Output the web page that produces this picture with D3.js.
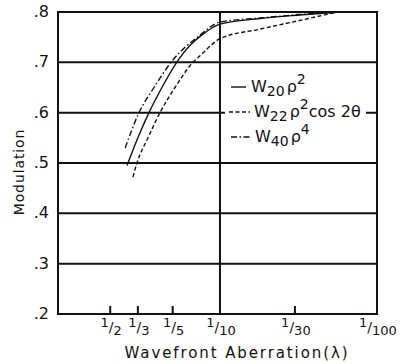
<!DOCTYPE html>
<html><head><meta charset="utf-8">
<script src="https://cdn.jsdelivr.net/npm/d3@7"></script>
<style>body{margin:0;background:#fff}svg{display:block}text{font-family:"DejaVu Sans",sans-serif;fill:#111}</style>
</head><body><svg id="c" width="404" height="364"></svg>
<script>
// Data: x = denominator of wavefront aberration (λ/d), y = modulation
const yTicks = [0.2,0.3,0.4,0.5,0.6,0.7,0.8];
const yTickLabels = [".2",".3",".4",".5",".6",".7",".8"];
const xTicks = [2,3,5,10,30,100];
const xTickDenoms = ["2","3","5","10","30","100"];
const w20 = [[2.56,0.495],[3.0,0.55],[3.53,0.60],[4.27,0.65],[5.3,0.70],[6.5,0.735],[7.5,0.752],[10,0.776],[18,0.787],[32,0.794],[58,0.8]];
const w22 = [[2.79,0.472],[2.96,0.50],[3.48,0.55],[4.15,0.60],[5.17,0.65],[6.73,0.70],[7.46,0.713],[10,0.747],[18,0.766],[32,0.783],[56,0.80]];
const w40 = [[2.49,0.53],[3.05,0.60],[3.8,0.65],[4.88,0.70],[7.46,0.754],[10,0.78],[18,0.788],[32,0.795],[56,0.8]];
const seriesNames = ["W20","W22","W40"];

const svg = d3.select("#c");
const x = d3.scaleLog().domain([0.93,100]).range([58,377]);
const y = d3.scaleLinear().domain([0.2,0.8]).range([314,12]);
const ink = "#111";

// horizontal grid lines
svg.selectAll(".hg").data(yTicks.slice(1,-1)).enter().append("line")
  .attr("x1",58).attr("x2",377).attr("y1",d=>y(d)).attr("y2",d=>y(d))
  .attr("stroke",ink).attr("stroke-width",2);
// vertical grid at 1/10
svg.append("line").attr("x1",x(10)).attr("x2",x(10)).attr("y1",12).attr("y2",314)
  .attr("stroke",ink).attr("stroke-width",2);
// bottom ticks
svg.selectAll(".bt").data(xTicks.filter(d=>d!==10&&d!==100)).enter().append("line")
  .attr("x1",d=>x(d)).attr("x2",d=>x(d)).attr("y1",314).attr("y2",306)
  .attr("stroke",ink).attr("stroke-width",2);
// frame
svg.append("rect").attr("x",58).attr("y",12).attr("width",319).attr("height",302)
  .attr("fill","none").attr("stroke",ink).attr("stroke-width",2);

// curves
const line = d3.line().x(d=>x(d[0])).y(d=>y(d[1])).curve(d3.curveMonotoneX);
const styles = [
  {data:w20, dash:null},
  {data:w22, dash:"4,2.5"},
  {data:w40, dash:"6,2.5,1.5,2.5"}
];
styles.forEach(s=>{
  svg.append("path").attr("d",line(s.data)).attr("fill","none")
    .attr("stroke",ink).attr("stroke-width",1.4)
    .attr("stroke-dasharray",s.dash);
});

// legend
svg.append("rect").attr("x",225).attr("y",100).attr("width",141).attr("height",24).attr("fill","#fff");
const legY = [87,112,137];
const legX1 = [231,229,231], legX2=[246,250,252], legTx=[251,254,255];
const subs = ["20","22","40"], sups=["2","2","4"], tails=["","cos 2θ",""];
styles.forEach((s,i)=>{
  svg.append("line").attr("x1",legX1[i]).attr("x2",legX2[i]).attr("y1",legY[i]).attr("y2",legY[i])
    .attr("stroke",ink).attr("stroke-width",1.4).attr("stroke-dasharray",s.dash);
  const t = svg.append("text").attr("x",legTx[i]).attr("y",legY[i]+5).attr("font-size",16);
  t.append("tspan").text("W");
  t.append("tspan").attr("font-size",14).attr("dy",4).text(subs[i]);
  t.append("tspan").attr("dy",-4).attr("dx",2).text("ρ");
  t.append("tspan").attr("font-size",14).attr("dy",-8).text(sups[i]);
  if(tails[i]) t.append("tspan").attr("dy",8).text(tails[i]);
});

// y tick labels
svg.selectAll(".yl").data(yTicks).enter().append("text")
  .attr("x",49).attr("y",d=>y(d)+5).attr("text-anchor","end").attr("font-size",16)
  .text((d,i)=>yTickLabels[i]);

// x tick labels
xTicks.forEach((d,i)=>{
  const t = svg.append("text").attr("x",x(d)+1).attr("y",327).attr("text-anchor","middle").attr("font-size",13);
  t.append("tspan").text("1");
  t.append("tspan").attr("dy",5).attr("font-size",14).text("/");
  t.append("tspan").attr("dy",3).text(xTickDenoms[i]);
});

// axis titles
svg.append("text").attr("x",237).attr("y",358).attr("text-anchor","middle")
  .attr("font-size",15).attr("letter-spacing",1.9).text("Wavefront Aberration(λ)");
svg.append("text").attr("transform","translate(24,172) rotate(-90)").attr("text-anchor","middle")
  .attr("font-size",14).attr("letter-spacing",0.9).text("Modulation");
</script></body></html>
